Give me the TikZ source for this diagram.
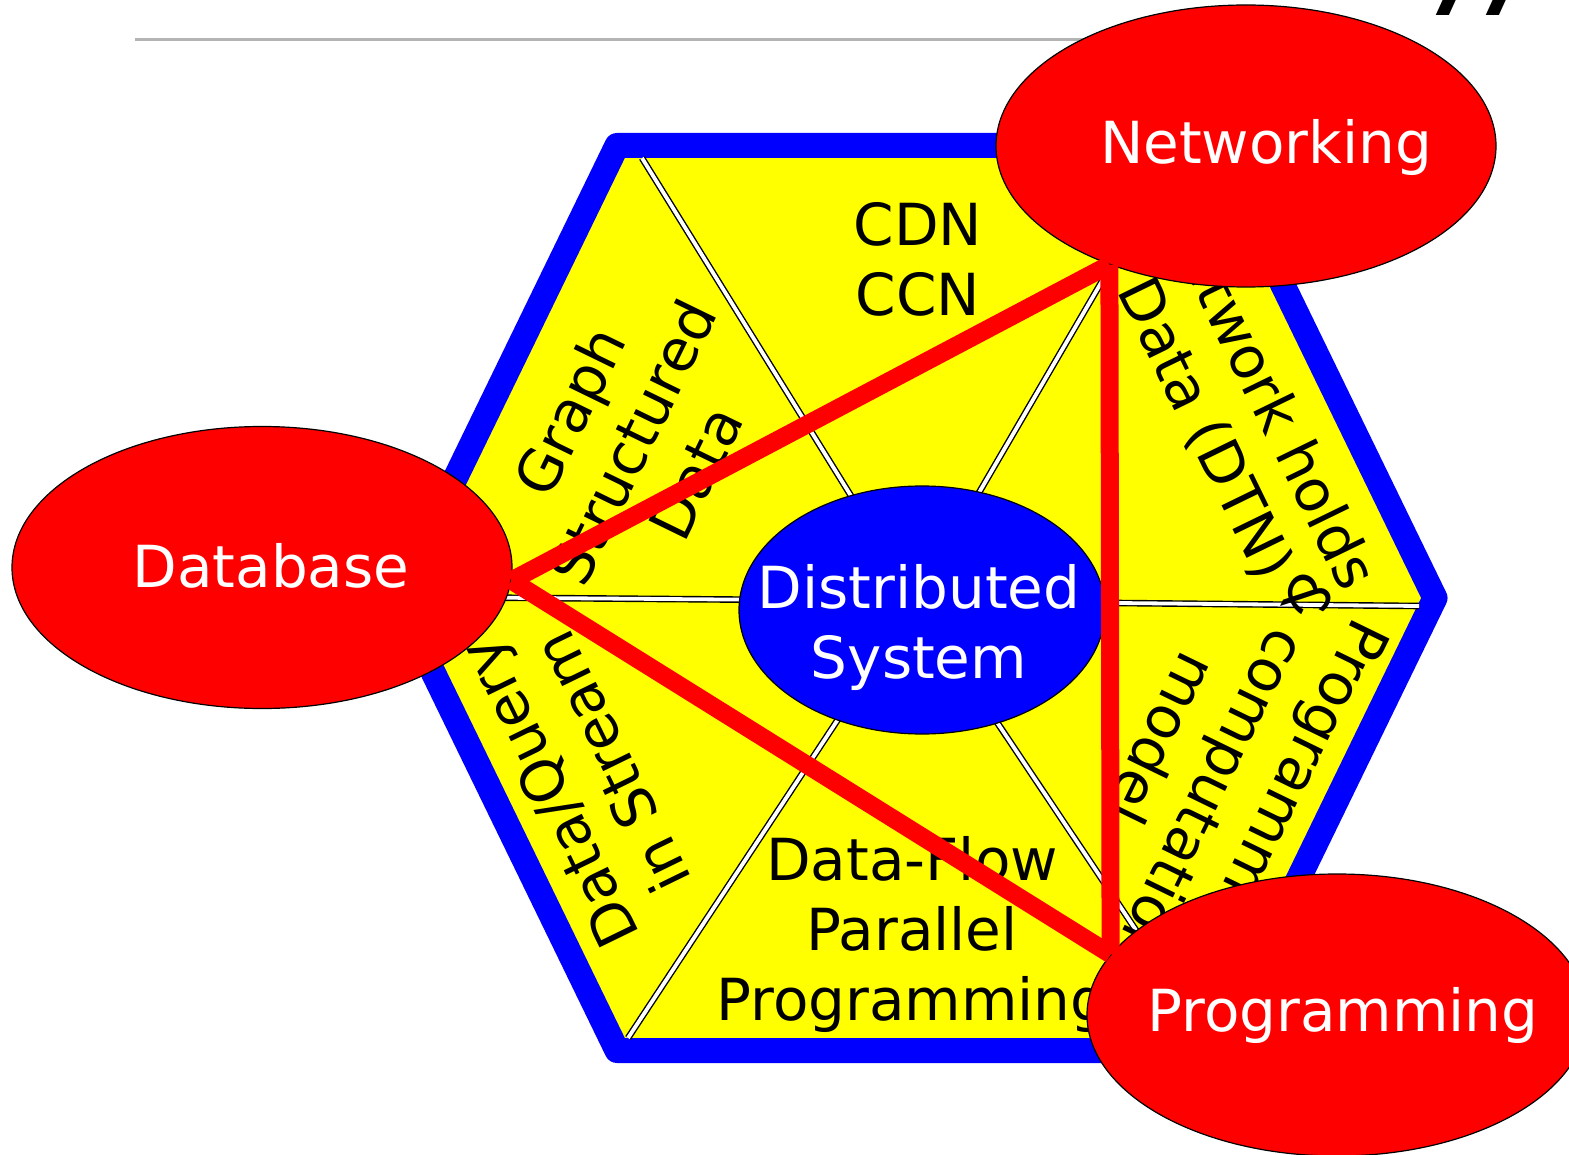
\documentclass[tikz,border=0pt]{standalone}
\usepackage{fontspec}
\setmainfont{DejaVu Sans}
\usetikzlibrary{shapes.geometric}
\definecolor{hexblue}{HTML}{0000FF}
\definecolor{hexyellow}{HTML}{FFFF00}
\definecolor{topicred}{HTML}{FF0000}
\definecolor{rulegray}{HTML}{B4B4B4}

\begin{document}
\begin{tikzpicture}[x=0.5pt, y=-0.5pt,
    every node/.style={font=\fontsize{29}{35}\selectfont},
    topic/.style={ellipse, draw=black, line width=0.6pt, fill=topicred, minimum width=250pt, minimum height=141pt, inner sep=0pt},
    spoke/.style={draw=black, line width=0.7pt, double=white, double distance=1.9pt},
    link/.style={draw=topicred, line width=9pt},
    sector/.style={align=center, inner sep=0pt}]

            \useasboundingbox (0,0) rectangle (1569,1155);

            % Title rule and slide number
            \draw[rulegray, line width=1.5pt] (135,40) -- (1200,40);
            \node[anchor=base west, font=\fontsize{36}{40}\selectfont\bfseries] (pagenum) at (1418,16) {77};

            % Hexagon
            \draw[hexblue, line width=12.5pt, line join=round, fill=hexyellow]
                (617,145.5) -- (1215,145.5) -- (1435,598) -- (1215,1050.5) -- (617,1050.5) -- (397,598) -- cycle;

            % Spokes from the hub to the corners
            \coordinate (hub) at (916,601);
            \coordinate (tl) at (642,158);
            \coordinate (tr) at (1105,276);
            \coordinate (rr) at (1419,606);
            \coordinate (br) at (1208,1038);
            \coordinate (bl) at (628,1038);
            \coordinate (ll) at (411,597);
            \foreach \c in {tl,tr,rr,br,bl,ll}
                \draw[spoke] (hub) -- (\c);

            % Sector texts
            \node[sector] (cdn) at (918,259) {CDN\\CCN};
            \node[sector, rotate=64] (graph) at (632,442) {Graph\\Structured\\Data};
            \node[sector, rotate=-64] (dtn) at (1236,414) {Network holds\\Data (DTN)};
            \node[sector, rotate=-116] (model) at (1225,770) {Programming\\\& computation\\model};
            \node[sector, rotate=116] (stream) at (580,778) {Data/Query\\in Stream};
            \node[sector] (dataflow) at (912,934) {Data-Flow\\Parallel\\Programming};

            % Distributed system in the middle
            \node[ellipse, draw=black, line width=0.6pt, fill=hexblue, minimum width=183pt, minimum height=124pt, inner sep=0pt] (ds) at (922,610) {};
            \node[white, align=center] (dslabel) at (919,627) {Distributed\\System};

            % Topics
            \node[topic] (net) at (1246,146) {};
            \node[topic] (db) at (262,567.5) {};
            \node[topic] (prog) at (1337,1015) {};
            \node[white, anchor=base] (netlabel) at (1266,163.5) {Networking};
            \node[white, anchor=base] (dblabel) at (271,587) {Database};
            \node[white, anchor=base] (proglabel) at (1343,1031.5) {Programming};

            % Links between the topics
            \draw[link] (db.-3.5) -- (net.221);
            \draw[link] (db.-3.5) -- (prog.165);
            \draw[link] (net.221) -- (prog.165);
        \end{tikzpicture}
\end{document}
